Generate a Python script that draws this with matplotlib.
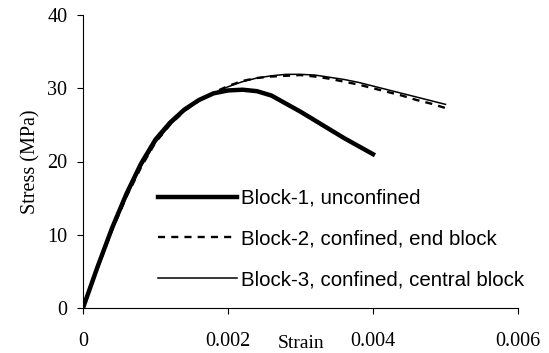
import matplotlib
matplotlib.use("Agg")
import matplotlib.pyplot as plt
import numpy as np

# stress-strain curves of the three masonry blocks
strain_1 = [0, 0.0002, 0.0004, 0.0006, 0.0008, 0.001, 0.0012, 0.0014, 0.0016, 0.0018,
            0.002, 0.0022, 0.0024, 0.0026, 0.0028, 0.003, 0.0032, 0.0034, 0.0036, 0.0038, 0.004]
stress_1 = [0, 5.6, 10.9, 15.6, 19.7, 23.0, 25.3, 27.1, 28.4, 29.3,
            29.7, 29.8, 29.6, 29.0, 27.9, 26.8, 25.6, 24.4, 23.2, 22.1, 21.0]

strain_23 = [0, 0.0002, 0.0004, 0.0006, 0.0008, 0.001, 0.0012, 0.0014, 0.0016, 0.0018,
             0.002, 0.0022, 0.0024, 0.0026, 0.0028, 0.003, 0.0032, 0.0034, 0.0036, 0.0038,
             0.004, 0.0042, 0.0044, 0.0046, 0.0048, 0.005]
stress_2 = [0, 5.4, 10.6, 15.2, 19.2, 22.6, 25.0, 26.9, 28.3, 29.4,
            30.3, 31.0, 31.4, 31.6, 31.7, 31.8, 31.6, 31.3, 30.9, 30.5,
            30.0, 29.5, 29.0, 28.4, 27.9, 27.3]
stress_3 = [0, 5.4, 10.6, 15.2, 19.3, 22.6, 25.0, 26.9, 28.3, 29.3,
            30.2, 30.9, 31.4, 31.7, 31.9, 31.9, 31.8, 31.5, 31.2, 30.8,
            30.3, 29.8, 29.3, 28.8, 28.3, 27.8]

labels = ["Block-1, unconfined",
          "Block-2, confined, end block",
          "Block-3, confined, central block"]

x_ticks = [0, 0.002, 0.004, 0.006]
x_tick_labels = ["0", "0.002", "0.004", "0.006"]
y_ticks = [0, 10, 20, 30, 40]

serif = ["Liberation Serif", "DejaVu Serif"]
sans = ["Liberation Sans", "DejaVu Sans"]

fig = plt.figure(figsize=(5.49, 3.53), dpi=100)
ax = fig.add_axes([83 / 549, 1 - 308 / 353, 435 / 549, 293 / 353])

ax.plot(strain_1, stress_1, color="black", lw=3.2, label=labels[0])
ax.plot(strain_23, stress_2, color="black", lw=1.7, ls=(0, (3, 2.6)), label=labels[1])
ax.plot(strain_23, stress_3, color="black", lw=1.1, label=labels[2])

ax.set_xlim(0, 0.006)
ax.set_ylim(0, 40)
ax.set_xticks(x_ticks)
ax.set_xticklabels(x_tick_labels)
ax.set_yticks(y_ticks)
for lab in ax.get_xticklabels() + ax.get_yticklabels():
    lab.set_family(serif)
    lab.set_fontsize(14.5)

ax.tick_params(direction="out", length=4.3, width=0.8, color="black")
ax.tick_params(axis="x", pad=13)
ax.tick_params(axis="y", pad=7)
ax.spines["top"].set_visible(False)
ax.spines["right"].set_visible(False)
for s in ("left", "bottom"):
    ax.spines[s].set_linewidth(0.8)

ax.set_ylabel("Stress (MPa)", family=serif, fontsize=14.5, labelpad=5)
fig.text(301 / 549, 1 - 344 / 353, "Strain", family=serif, fontsize=14,
         ha="center", va="center")

leg = ax.legend(loc="center left", bbox_to_anchor=(158 / 549, 1 - 239 / 353),
                bbox_transform=fig.transFigure, frameon=False, borderpad=0,
                borderaxespad=0, handlelength=3.85, handletextpad=0.2,
                labelspacing=1.05, prop={"family": sans, "size": 14.8})

fig.savefig("out.png", dpi=100)
